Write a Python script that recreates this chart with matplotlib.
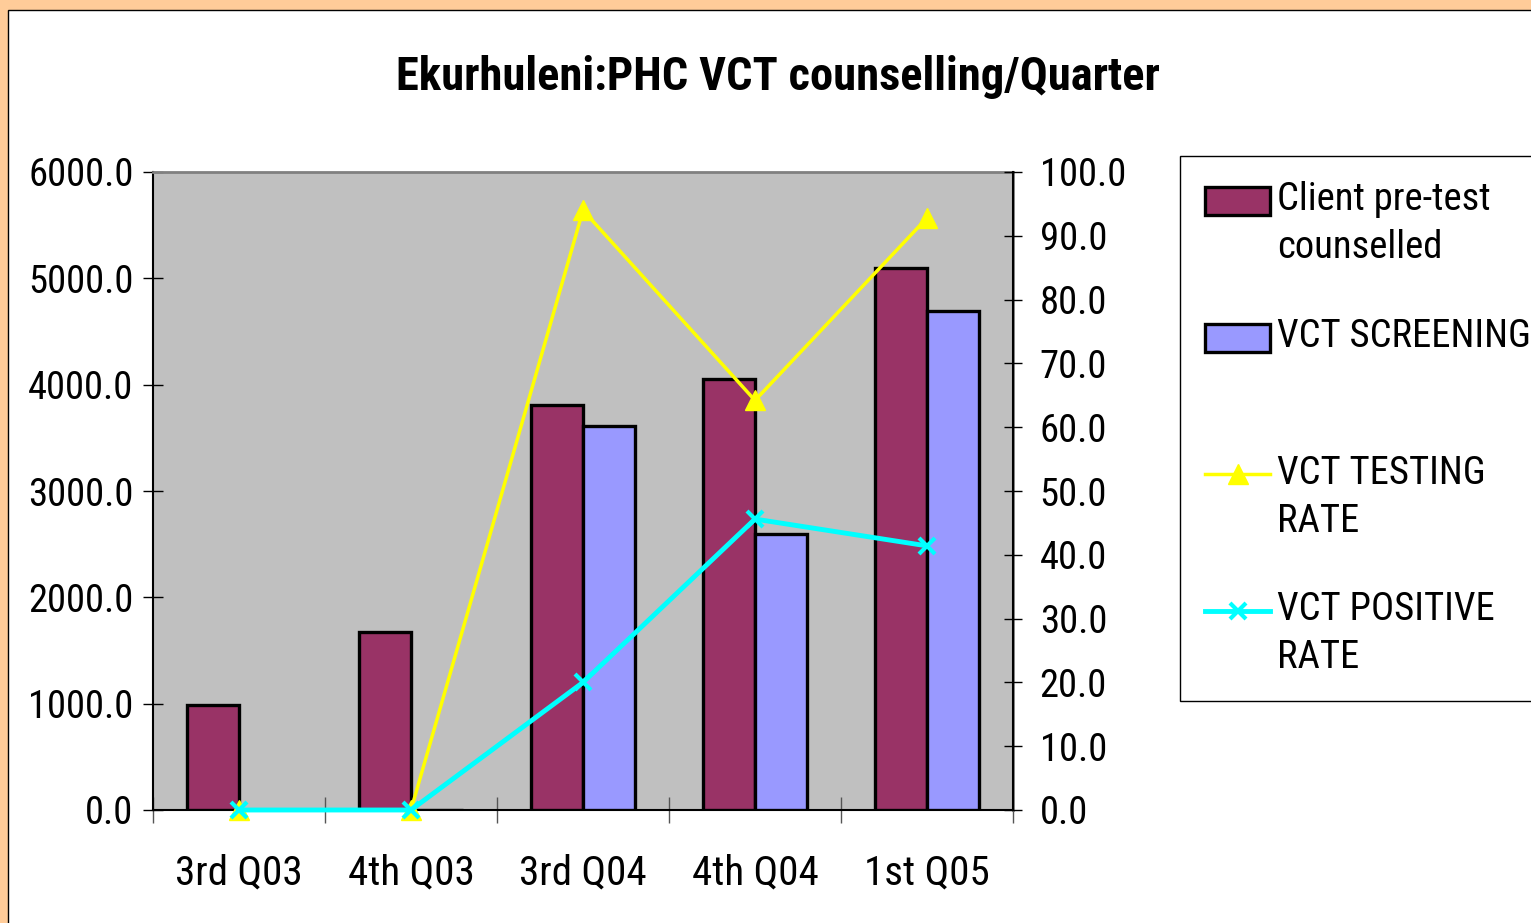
import os
import matplotlib
matplotlib.use('Agg')
import matplotlib.pyplot as plt
from matplotlib import font_manager as fm
from matplotlib.font_manager import FontProperties
from matplotlib.textpath import TextPath
from matplotlib.patches import Rectangle
from matplotlib.lines import Line2D
from matplotlib.legend_handler import HandlerPatch, HandlerLine2D
import numpy as np

# ---------------- data ----------------
categories = ['3rd Q03', '4th Q03', '3rd Q04', '4th Q04', '1st Q05']
client_pretest = [990, 1670, 3810, 4050, 5100]
vct_screening = [0, 0, 3610, 2600, 4690]
testing_rate = [0.0, 0.0, 94.0, 64.2, 92.8]
positive_rate = [0.0, 0.0, 20.0, 45.6, 41.4]
left_ticks = [0, 1000, 2000, 3000, 4000, 5000, 6000]
right_ticks = [0, 10, 20, 30, 40, 50, 60, 70, 80, 90, 100]
series_labels = ['Client pre-test\ncounselled', 'VCT SCREENING\n ',
                 'VCT TESTING\nRATE', 'VCT POSITIVE\nRATE']
title_text = 'Ekurhuleni:PHC VCT counselling/Quarter'

# ---------------- fonts ----------------
W, H = 1531, 923


def pick_condensed(target_weight):
    best, best_score = None, 1e9
    for f in fm.fontManager.ttflist:
        fn = os.path.basename(f.fname).lower().replace('_', '').replace('-', '')
        nm = f.name.lower()
        cond = ('condensed' in fn or 'narrow' in fn or 'condensed' in nm or 'narrow' in nm
                or str(f.stretch) in ('condensed', 'semi-condensed', 'extra-condensed'))
        if not cond:
            continue
        if 'mono' in fn or 'italic' in fn or 'oblique' in fn or f.style != 'normal':
            continue
        if 'serif' in fn and 'sans' not in fn:
            continue
        if 'cjk' in fn:
            continue
        if 'liberation' in fn or 'arial' in fn:
            fam = 0
        elif 'roboto' in fn:
            fam = 1
        elif 'noto' in fn:
            fam = 2
        elif 'opensans' in fn:
            fam = 3
        elif 'dejavu' in fn:
            fam = 4
        else:
            fam = 5
        if 'semicondensed' in fn:
            kind = 0.6
        elif 'extracondensed' in fn or 'ultracondensed' in fn:
            kind = 0.8
        else:
            kind = 0.0
        try:
            w = int(f.weight)
        except Exception:
            w = 700 if 'bold' in str(f.weight) else 400
        score = fam + kind + abs(w - target_weight) / 100.0
        if score < best_score:
            best, best_score = f.fname, score
    return best


reg_path = pick_condensed(400)
bold_path = pick_condensed(700)
FP_REG = FontProperties(fname=reg_path) if reg_path else FontProperties(family='Liberation Sans')
FP_BOLD = FontProperties(fname=bold_path) if bold_path else FontProperties(family='Liberation Sans', weight='bold')


def ink(s, fp):
    e = TextPath((0, 0), s, size=100, prop=fp).get_extents()
    return e.width / 100.0, e.height / 100.0


def size_for(fp, s, target_w, target_h, hchar, slack=1.08):
    rw, _ = ink(s, fp)
    _, rh = ink(hchar, fp)
    s_w = target_w * 0.72 / rw
    s_h = target_h * 0.72 / rh
    return min(s_h, s_w * slack)


TICK_FS = size_for(FP_REG, '6000.0', 97, 30, '0', slack=1.04)
XLAB_FS = size_for(FP_REG, '3rd Q03', 123, 30, '0')
TITLE_FS = size_for(FP_BOLD, title_text, 759, 35, 'E', slack=1.0)
LEG_FS = size_for(FP_REG, 'VCT SCREENING', 250, 35, 'V', slack=1.0)


def fp(base, size):
    p = base.copy()
    p.set_size(size)
    return p


MAROON = '#993366'
BLUE = '#9999FF'
YELLOW = '#FFFF00'
CYAN = '#00FFFF'
GRAY = '#C0C0C0'

fig = plt.figure(figsize=(W / 100, H / 100), dpi=100)
fig.patch.set_facecolor('#FFCC99')
panel = Rectangle((8 / W, -0.05), 1.2, 1 - 10 / H + 0.05, transform=fig.transFigure,
                  facecolor='white', edgecolor='black', lw=1.0, zorder=-10)
fig.patches.append(panel)

ax = fig.add_axes([153 / W, (H - 810) / H, 860 / W, 638 / H])
ax.set_facecolor(GRAY)

x = np.arange(len(categories))
bw = 0.3
ax.bar(x - bw / 2, client_pretest, bw, color=MAROON, edgecolor='black', lw=2.4, zorder=3)
ax.bar(x + bw / 2, vct_screening, bw, color=BLUE, edgecolor='black', lw=2.4, zorder=3)

ax.set_xlim(-0.5, len(categories) - 0.5)
ax.set_ylim(0, 6000)
ax.set_yticks(left_ticks)
ax.set_yticklabels([f'{v:.1f}' for v in left_ticks], fontproperties=fp(FP_REG, TICK_FS))
ax.set_xticks(np.arange(-0.5, len(categories), 1.0))
ax.set_xticklabels([])
ax.set_xticks(x, minor=True)
ax.set_xticklabels(categories, minor=True, fontproperties=fp(FP_REG, XLAB_FS))

ax.tick_params(axis='y', direction='inout', length=15, width=1, pad=6.5, colors='black')
ax.tick_params(axis='x', which='major', direction='inout', length=19, width=1, color='#555555')
ax.tick_params(axis='x', which='minor', length=0, pad=31)

for s in ['top', 'right']:
    ax.spines[s].set_color('#808080')
    ax.spines[s].set_linewidth(2)
ax.spines['left'].set_color('black')
ax.spines['left'].set_linewidth(1.5)
ax.spines['bottom'].set_color('black')
ax.spines['bottom'].set_linewidth(1.5)

ax2 = ax.twinx()
ax2.plot(x, testing_rate, color=YELLOW, lw=2.5, marker='^', markersize=14,
         markerfacecolor=YELLOW, markeredgecolor=YELLOW, zorder=4, clip_on=False)
ax2.plot(x, positive_rate, color=CYAN, lw=3.5, marker='x', markersize=12,
         markeredgewidth=3, markeredgecolor=CYAN, zorder=5, clip_on=False)
ax2.set_ylim(0, 100)
ax2.set_yticks(right_ticks)
ax2.set_yticklabels([f'{v:.1f}' for v in right_ticks], fontproperties=fp(FP_REG, TICK_FS))
ax2.tick_params(axis='y', direction='inout', length=13.5, width=1, pad=12.5, colors='black')
for s in ['top', 'left', 'bottom']:
    ax2.spines[s].set_visible(False)
ax2.spines['right'].set_color('black')
ax2.spines['right'].set_linewidth(1.5)

fig.text(778 / W, 1 - 90 / H, title_text, ha='center', va='baseline',
         fontproperties=fp(FP_BOLD, TITLE_FS))

# ---------------- legend ----------------
EM = LEG_FS * 100 / 72.0          # font size in pixels
STEP = 47.0                        # pixels between text lines
ENTRY = 135.0                      # pixels between entries
LINESP = (STEP / EM - 0.21) / 0.73
GAP = ENTRY - STEP - 0.94 * EM
SHIFT = 0.5 * STEP * 0.72          # points


class ShiftMixin:
    def create_artists(self, *args, **kwargs):
        arts = super().create_artists(*args, **kwargs)
        for a in arts:
            if isinstance(a, Line2D):
                a.set_ydata(np.asarray(a.get_ydata(), dtype=float) + SHIFT)
            elif isinstance(a, Rectangle):
                a.set_y(a.get_y() + SHIFT)
        return arts


class ShiftPatch(ShiftMixin, HandlerPatch):
    pass


class ShiftLine(ShiftMixin, HandlerLine2D):
    pass


h_patch1 = Rectangle((0, 0), 1, 1, facecolor=MAROON, edgecolor='black', lw=2.4)
h_patch2 = Rectangle((0, 0), 1, 1, facecolor=BLUE, edgecolor='black', lw=2.4)
h_line1 = Line2D([], [], color=YELLOW, lw=2.5, marker='^', markersize=14,
                 markerfacecolor=YELLOW, markeredgecolor=YELLOW)
h_line2 = Line2D([], [], color=CYAN, lw=3.5, marker='x', markersize=12,
                 markeredgewidth=3, markeredgecolor=CYAN)

leg = fig.legend([h_patch1, h_patch2, h_line1, h_line2], series_labels,
                 loc='upper left', bbox_to_anchor=(1180 / W, 1 - 156 / H),
                 bbox_transform=fig.transFigure, borderaxespad=0,
                 prop=fp(FP_REG, LEG_FS), frameon=True, fancybox=False, framealpha=1,
                 edgecolor='black', handlelength=65 / EM, handleheight=0.72,
                 handletextpad=7 / EM, labelspacing=GAP / EM, borderpad=25 / EM,
                 handler_map={Rectangle: ShiftPatch(), Line2D: ShiftLine()})
leg.get_frame().set_linewidth(1.0)
for t in leg.get_texts():
    t.set_linespacing(LINESP)

fig.savefig('out.png', dpi=100, facecolor=fig.get_facecolor())
